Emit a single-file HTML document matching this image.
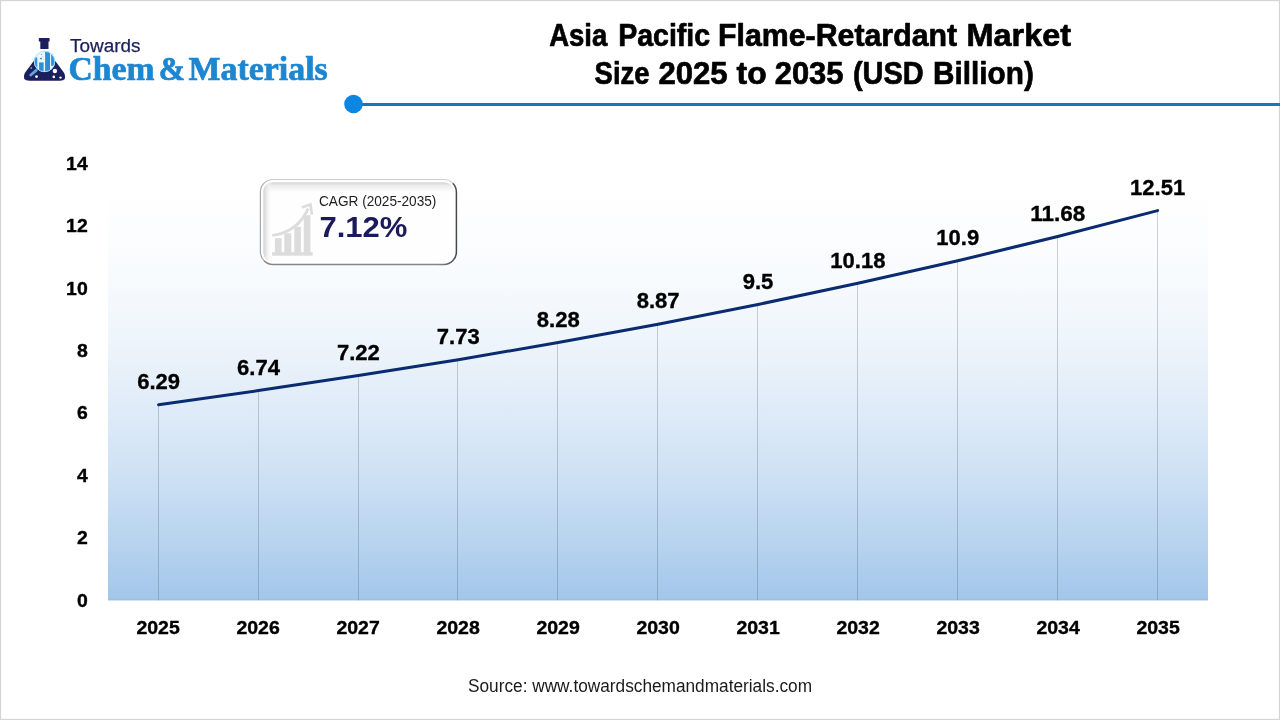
<!DOCTYPE html>
<html lang="en"><head><meta charset="utf-8">
<title>Asia Pacific Flame-Retardant Market Size 2025 to 2035 (USD Billion)</title>
<style>
html,body{margin:0;padding:0;background:#fff;}
body{width:1280px;height:720px;overflow:hidden;position:relative;font-family:"Liberation Sans",sans-serif;}
svg{position:absolute;left:0;top:0;display:block;will-change:transform;}
text{font-family:"Liberation Sans",sans-serif;}
.b{font-weight:700;}
.serif{font-family:"Liberation Serif",serif;font-weight:700;}
</style></head><body>
<svg width="1280" height="720" viewBox="0 0 1280 720">
<defs>
<linearGradient id="pg" x1="0" y1="0" x2="0" y2="1"><stop offset="0.00" stop-color="rgb(255,255,255)"/><stop offset="0.05" stop-color="rgb(255,255,255)"/><stop offset="0.10" stop-color="rgb(254,254,255)"/><stop offset="0.15" stop-color="rgb(252,253,254)"/><stop offset="0.20" stop-color="rgb(250,252,254)"/><stop offset="0.25" stop-color="rgb(248,251,253)"/><stop offset="0.30" stop-color="rgb(245,249,253)"/><stop offset="0.35" stop-color="rgb(242,247,252)"/><stop offset="0.40" stop-color="rgb(238,245,251)"/><stop offset="0.45" stop-color="rgb(234,242,250)"/><stop offset="0.50" stop-color="rgb(229,239,249)"/><stop offset="0.55" stop-color="rgb(224,236,248)"/><stop offset="0.60" stop-color="rgb(219,233,247)"/><stop offset="0.65" stop-color="rgb(213,229,246)"/><stop offset="0.70" stop-color="rgb(207,226,244)"/><stop offset="0.75" stop-color="rgb(200,222,243)"/><stop offset="0.80" stop-color="rgb(193,217,241)"/><stop offset="0.85" stop-color="rgb(186,213,239)"/><stop offset="0.90" stop-color="rgb(178,208,238)"/><stop offset="0.95" stop-color="rgb(170,203,236)"/><stop offset="1.00" stop-color="rgb(162,198,234)"/></linearGradient>
<linearGradient id="bx" gradientUnits="userSpaceOnUse" x1="0" y1="182.3" x2="0" y2="192"><stop offset="0" stop-color="#d4d4d4"/><stop offset="0.35" stop-color="#ececec"/><stop offset="1" stop-color="#fefefe"/></linearGradient>
<linearGradient id="bxl" gradientUnits="userSpaceOnUse" x1="263.2" y1="0" x2="272" y2="0"><stop offset="0" stop-color="#d0d0d0"/><stop offset="0.4" stop-color="#e6e6e6" stop-opacity="0.8"/><stop offset="1" stop-color="#ffffff" stop-opacity="0"/></linearGradient>
<linearGradient id="sTL" gradientUnits="userSpaceOnUse" x1="260" y1="0" x2="274" y2="0"><stop offset="0" stop-color="#a6a6a6"/><stop offset="1" stop-color="#cfcfcf"/></linearGradient>
<linearGradient id="sBR" gradientUnits="userSpaceOnUse" x1="438" y1="0" x2="457" y2="0"><stop offset="0" stop-color="#868686"/><stop offset="1" stop-color="#464646"/></linearGradient>
<clipPath id="bxclip"><rect x="263.2" y="182.3" width="190.6" height="79.6" rx="9.6"/></clipPath>
<clipPath id="mag"><circle cx="44.5" cy="61.5" r="10.4"/></clipPath>
<filter id="soft" x="-5%" y="-5%" width="110%" height="110%"><feGaussianBlur stdDeviation="0.35"/></filter>
</defs>
<rect x="0" y="0" width="1280" height="720" fill="#ffffff"/>
<rect x="0.5" y="0.5" width="1279" height="719" fill="none" stroke="#d5d5d5" stroke-width="1.3"/>
<rect x="108" y="163" width="1100" height="437.4" fill="url(#pg)"/>
<rect x="108" y="599.6" width="1100" height="0.8" fill="#5a6470" fill-opacity="0.13"/>
<line x1="158.5" y1="404.7" x2="158.5" y2="600.4" stroke="#3c4858" stroke-opacity="0.25" stroke-width="1"/>
<line x1="258.5" y1="390.6" x2="258.5" y2="600.4" stroke="#3c4858" stroke-opacity="0.25" stroke-width="1"/>
<line x1="358.5" y1="375.6" x2="358.5" y2="600.4" stroke="#3c4858" stroke-opacity="0.25" stroke-width="1"/>
<line x1="457.5" y1="359.7" x2="457.5" y2="600.4" stroke="#3c4858" stroke-opacity="0.25" stroke-width="1"/>
<line x1="557.5" y1="342.6" x2="557.5" y2="600.4" stroke="#3c4858" stroke-opacity="0.25" stroke-width="1"/>
<line x1="657.5" y1="324.2" x2="657.5" y2="600.4" stroke="#3c4858" stroke-opacity="0.25" stroke-width="1"/>
<line x1="757.5" y1="304.5" x2="757.5" y2="600.4" stroke="#3c4858" stroke-opacity="0.25" stroke-width="1"/>
<line x1="857.5" y1="283.3" x2="857.5" y2="600.4" stroke="#3c4858" stroke-opacity="0.25" stroke-width="1"/>
<line x1="957.5" y1="260.8" x2="957.5" y2="600.4" stroke="#3c4858" stroke-opacity="0.25" stroke-width="1"/>
<line x1="1057.5" y1="236.5" x2="1057.5" y2="600.4" stroke="#3c4858" stroke-opacity="0.25" stroke-width="1"/>
<line x1="1157.5" y1="210.6" x2="1157.5" y2="600.4" stroke="#3c4858" stroke-opacity="0.25" stroke-width="1"/>
<polyline points="158.6,404.7 258.5,390.6 358.4,375.6 458.3,359.7 558.2,342.6 658.1,324.2 758.0,304.5 857.9,283.3 957.8,260.8 1057.7,236.5 1157.6,210.6" fill="none" stroke="#0a2b70" stroke-width="3" stroke-linecap="round" stroke-linejoin="round"/>
<rect x="353" y="103" width="927" height="3" fill="#1577b9"/>
<circle cx="353.5" cy="104" r="9.3" fill="#0c87e1"/>
<text x="549.14" y="46.3" font-size="32.2" fill="#000" class="b" textLength="58.2" lengthAdjust="spacingAndGlyphs" stroke="#000" stroke-width="0.7" stroke-linejoin="round">Asia</text>
<text x="618.18" y="46.3" font-size="32.2" fill="#000" class="b" textLength="92.0" lengthAdjust="spacingAndGlyphs" stroke="#000" stroke-width="0.7" stroke-linejoin="round">Pacific</text>
<text x="717.98" y="46.3" font-size="32.2" fill="#000" class="b" textLength="239.17" lengthAdjust="spacingAndGlyphs" stroke="#000" stroke-width="0.7" stroke-linejoin="round">Flame-Retardant</text>
<text x="966.53" y="46.3" font-size="32.2" fill="#000" class="b" textLength="104.5" lengthAdjust="spacingAndGlyphs" stroke="#000" stroke-width="0.7" stroke-linejoin="round">Market</text>
<text x="594.6" y="84.4" font-size="32.2" fill="#000" class="b" textLength="55.0" lengthAdjust="spacingAndGlyphs" stroke="#000" stroke-width="0.7" stroke-linejoin="round">Size</text>
<text x="658.44" y="84.4" font-size="32.2" fill="#000" class="b" textLength="69.19" lengthAdjust="spacingAndGlyphs" stroke="#000" stroke-width="0.7" stroke-linejoin="round">2025</text>
<text x="736.59" y="84.4" font-size="32.2" fill="#000" class="b" textLength="30.1" lengthAdjust="spacingAndGlyphs" stroke="#000" stroke-width="0.7" stroke-linejoin="round">to</text>
<text x="774.67" y="84.4" font-size="32.2" fill="#000" class="b" textLength="68.9" lengthAdjust="spacingAndGlyphs" stroke="#000" stroke-width="0.7" stroke-linejoin="round">2035</text>
<text x="852.93" y="84.4" font-size="32.2" fill="#000" class="b" textLength="70.74" lengthAdjust="spacingAndGlyphs" stroke="#000" stroke-width="0.7" stroke-linejoin="round">(USD</text>
<text x="933.06" y="84.4" font-size="32.2" fill="#000" class="b" textLength="100.8" lengthAdjust="spacingAndGlyphs" stroke="#000" stroke-width="0.7" stroke-linejoin="round">Billion)</text>
<text x="87.7" y="606.5" font-size="18.2" fill="#000" class="b" text-anchor="end" textLength="10.8" lengthAdjust="spacingAndGlyphs" stroke="#000" stroke-width="0.35" stroke-linejoin="round">0</text>
<text x="87.7" y="544.1" font-size="18.2" fill="#000" class="b" text-anchor="end" textLength="10.8" lengthAdjust="spacingAndGlyphs" stroke="#000" stroke-width="0.35" stroke-linejoin="round">2</text>
<text x="87.7" y="481.7" font-size="18.2" fill="#000" class="b" text-anchor="end" textLength="10.8" lengthAdjust="spacingAndGlyphs" stroke="#000" stroke-width="0.35" stroke-linejoin="round">4</text>
<text x="87.7" y="419.3" font-size="18.2" fill="#000" class="b" text-anchor="end" textLength="10.8" lengthAdjust="spacingAndGlyphs" stroke="#000" stroke-width="0.35" stroke-linejoin="round">6</text>
<text x="87.7" y="356.9" font-size="18.2" fill="#000" class="b" text-anchor="end" textLength="10.8" lengthAdjust="spacingAndGlyphs" stroke="#000" stroke-width="0.35" stroke-linejoin="round">8</text>
<text x="87.7" y="294.5" font-size="18.2" fill="#000" class="b" text-anchor="end" textLength="21.6" lengthAdjust="spacingAndGlyphs" stroke="#000" stroke-width="0.35" stroke-linejoin="round">10</text>
<text x="87.7" y="232.1" font-size="18.2" fill="#000" class="b" text-anchor="end" textLength="21.6" lengthAdjust="spacingAndGlyphs" stroke="#000" stroke-width="0.35" stroke-linejoin="round">12</text>
<text x="87.7" y="169.7" font-size="18.2" fill="#000" class="b" text-anchor="end" textLength="21.6" lengthAdjust="spacingAndGlyphs" stroke="#000" stroke-width="0.35" stroke-linejoin="round">14</text>
<text x="158.1" y="634" font-size="18.2" fill="#000" class="b" text-anchor="middle" textLength="43.3" lengthAdjust="spacingAndGlyphs" stroke="#000" stroke-width="0.35" stroke-linejoin="round">2025</text>
<text x="258.1" y="634" font-size="18.2" fill="#000" class="b" text-anchor="middle" textLength="43.3" lengthAdjust="spacingAndGlyphs" stroke="#000" stroke-width="0.35" stroke-linejoin="round">2026</text>
<text x="358.1" y="634" font-size="18.2" fill="#000" class="b" text-anchor="middle" textLength="43.3" lengthAdjust="spacingAndGlyphs" stroke="#000" stroke-width="0.35" stroke-linejoin="round">2027</text>
<text x="458.1" y="634" font-size="18.2" fill="#000" class="b" text-anchor="middle" textLength="43.3" lengthAdjust="spacingAndGlyphs" stroke="#000" stroke-width="0.35" stroke-linejoin="round">2028</text>
<text x="558.1" y="634" font-size="18.2" fill="#000" class="b" text-anchor="middle" textLength="43.3" lengthAdjust="spacingAndGlyphs" stroke="#000" stroke-width="0.35" stroke-linejoin="round">2029</text>
<text x="658.1" y="634" font-size="18.2" fill="#000" class="b" text-anchor="middle" textLength="43.3" lengthAdjust="spacingAndGlyphs" stroke="#000" stroke-width="0.35" stroke-linejoin="round">2030</text>
<text x="758.1" y="634" font-size="18.2" fill="#000" class="b" text-anchor="middle" textLength="43.3" lengthAdjust="spacingAndGlyphs" stroke="#000" stroke-width="0.35" stroke-linejoin="round">2031</text>
<text x="858.1" y="634" font-size="18.2" fill="#000" class="b" text-anchor="middle" textLength="43.3" lengthAdjust="spacingAndGlyphs" stroke="#000" stroke-width="0.35" stroke-linejoin="round">2032</text>
<text x="958.1" y="634" font-size="18.2" fill="#000" class="b" text-anchor="middle" textLength="43.3" lengthAdjust="spacingAndGlyphs" stroke="#000" stroke-width="0.35" stroke-linejoin="round">2033</text>
<text x="1058.1" y="634" font-size="18.2" fill="#000" class="b" text-anchor="middle" textLength="43.3" lengthAdjust="spacingAndGlyphs" stroke="#000" stroke-width="0.35" stroke-linejoin="round">2034</text>
<text x="1158.1" y="634" font-size="18.2" fill="#000" class="b" text-anchor="middle" textLength="43.3" lengthAdjust="spacingAndGlyphs" stroke="#000" stroke-width="0.35" stroke-linejoin="round">2035</text>
<text x="158.6" y="388.9" font-size="22.2" fill="#000" class="b" text-anchor="middle" textLength="42.9" lengthAdjust="spacingAndGlyphs" stroke="#000" stroke-width="0.35" stroke-linejoin="round">6.29</text>
<text x="258.5" y="374.8" font-size="22.2" fill="#000" class="b" text-anchor="middle" textLength="42.9" lengthAdjust="spacingAndGlyphs" stroke="#000" stroke-width="0.35" stroke-linejoin="round">6.74</text>
<text x="358.4" y="359.8" font-size="22.2" fill="#000" class="b" text-anchor="middle" textLength="42.9" lengthAdjust="spacingAndGlyphs" stroke="#000" stroke-width="0.35" stroke-linejoin="round">7.22</text>
<text x="458.3" y="343.9" font-size="22.2" fill="#000" class="b" text-anchor="middle" textLength="42.9" lengthAdjust="spacingAndGlyphs" stroke="#000" stroke-width="0.35" stroke-linejoin="round">7.73</text>
<text x="558.2" y="326.8" font-size="22.2" fill="#000" class="b" text-anchor="middle" textLength="42.9" lengthAdjust="spacingAndGlyphs" stroke="#000" stroke-width="0.35" stroke-linejoin="round">8.28</text>
<text x="658.1" y="308.4" font-size="22.2" fill="#000" class="b" text-anchor="middle" textLength="42.9" lengthAdjust="spacingAndGlyphs" stroke="#000" stroke-width="0.35" stroke-linejoin="round">8.87</text>
<text x="758.0" y="288.7" font-size="22.2" fill="#000" class="b" text-anchor="middle" textLength="30.7" lengthAdjust="spacingAndGlyphs" stroke="#000" stroke-width="0.35" stroke-linejoin="round">9.5</text>
<text x="857.9" y="267.5" font-size="22.2" fill="#000" class="b" text-anchor="middle" textLength="55.1" lengthAdjust="spacingAndGlyphs" stroke="#000" stroke-width="0.35" stroke-linejoin="round">10.18</text>
<text x="957.8" y="245.0" font-size="22.2" fill="#000" class="b" text-anchor="middle" textLength="42.9" lengthAdjust="spacingAndGlyphs" stroke="#000" stroke-width="0.35" stroke-linejoin="round">10.9</text>
<text x="1057.7" y="220.7" font-size="22.2" fill="#000" class="b" text-anchor="middle" textLength="55.1" lengthAdjust="spacingAndGlyphs" stroke="#000" stroke-width="0.35" stroke-linejoin="round">11.68</text>
<text x="1157.6" y="194.8" font-size="22.2" fill="#000" class="b" text-anchor="middle" textLength="55.1" lengthAdjust="spacingAndGlyphs" stroke="#000" stroke-width="0.35" stroke-linejoin="round">12.51</text>
<text x="640" y="691.7" font-size="17.5" fill="#1a1a1a" text-anchor="middle" textLength="344" lengthAdjust="spacingAndGlyphs">Source: www.towardschemandmaterials.com</text>
<g>
<rect x="260.4" y="179.5" width="196.0" height="85.0" rx="12.5" fill="#fefefe"/>
<rect x="263.2" y="182.3" width="190.6" height="79.6" rx="9.6" fill="url(#bx)"/>
<rect x="263.2" y="182.3" width="9" height="79.6" rx="0" fill="url(#bxl)" clip-path="url(#bxclip)"/>
<path d="M264.06,260.84 A12.5,12.5 0 0 1 260.4,252.0 L260.4,192.0 A12.5,12.5 0 0 1 272.9,179.5 L443.9,179.5 A12.5,12.5 0 0 1 452.74,183.16" fill="none" stroke="url(#sTL)" stroke-width="1.2"/>
<path d="M452.74,183.16 A12.5,12.5 0 0 1 456.4,192.0 L456.4,252.0 A12.5,12.5 0 0 1 443.9,264.5 L272.9,264.5 A12.5,12.5 0 0 1 264.06,260.84" fill="none" stroke="url(#sBR)" stroke-width="1.5"/>
<g fill="#dcdcdc" stroke="none">
<rect x="272.0" y="252.2" width="40.7" height="3.5"/>
<rect x="274.9" y="238.2" width="6.7" height="15"/>
<rect x="284.3" y="233.2" width="7.0" height="20"/>
<rect x="294.3" y="226.8" width="6.6" height="26"/>
<rect x="303.8" y="215.2" width="6.6" height="38"/>
</g>
<path d="M272.2,235.4 C288,233.4 301,224.5 308.2,208.6" fill="none" stroke="#dcdcdc" stroke-width="2.8" stroke-linecap="butt"/>
<path d="M301.8,207.6 L310.4,204.6 L312.0,214.6" fill="none" stroke="#dcdcdc" stroke-width="2.6" stroke-linejoin="miter"/>
<text x="319.0" y="205.8" font-size="14.4" fill="#1e1e1e" textLength="117.4" lengthAdjust="spacingAndGlyphs">CAGR (2025-2035)</text>
<text x="319.4" y="236.7" font-size="29.2" fill="#1a1a5c" class="b" textLength="88" lengthAdjust="spacingAndGlyphs">7.12%</text>
</g>
<g>
<rect x="38.8" y="38" width="10.8" height="3.6" rx="0.7" fill="#1b1f5c"/>
<rect x="40.3" y="41" width="8.2" height="8.0" fill="#1b1f5c"/>
<path d="M40.4,52 L48.6,52 L64.2,73.0 Q67.6,80.8 59.8,80.8 L29.4,80.8 Q21.4,80.8 24.8,73.0 Z" fill="#1b1f5c"/>
<circle cx="44.5" cy="61.5" r="10.6" fill="#e9f6fe"/>
<g clip-path="url(#mag)">
<rect x="33.6" y="57.5" width="3.7" height="16" fill="#2f93d6"/>
<rect x="39.1" y="62.4" width="4.5" height="12" fill="#2a8fd4"/>
<rect x="45.1" y="50" width="4.9" height="24" fill="#2a8fd4"/>
<rect x="51.1" y="52" width="4.6" height="13.8" fill="#2f93d6"/>
</g>
<circle cx="44.5" cy="61.5" r="10.2" fill="none" stroke="#a6e0fb" stroke-width="0.9"/>
<line x1="36.2" y1="70.4" x2="30.8" y2="75.0" stroke="#5ea8e0" stroke-width="2.8" stroke-linecap="round"/>
<circle cx="54.9" cy="71.0" r="2.2" fill="#fff"/>
<circle cx="36.5" cy="76.6" r="1.4" fill="#fff"/>
<circle cx="53.8" cy="76.9" r="1.3" fill="#fff"/>
<circle cx="60.5" cy="77.6" r="1.2" fill="#fff"/>
<circle cx="31.3" cy="68.0" r="0.9" fill="#8d90c8"/>
<circle cx="41.0" cy="58.6" r="0.8" fill="#1f5f8f"/>
<circle cx="41.4" cy="54.5" r="0.5" fill="#4a86b8"/>
<circle cx="43.0" cy="56.8" r="0.4" fill="#4a86b8"/>
<text x="70.0" y="51.7" font-size="18" fill="#1b1f5c" textLength="70.56" lengthAdjust="spacingAndGlyphs" stroke="#1b1f5c" stroke-width="0.25">Towards</text>
<text x="68.6" y="79.7" font-size="33.4" fill="#1c86d1" class="serif" textLength="85.9" lengthAdjust="spacingAndGlyphs" stroke="#1c86d1" stroke-width="0.7" stroke-linejoin="round">Chem</text>
<text x="158.7" y="79.7" font-size="33.4" fill="#1c86d1" class="serif" textLength="26.3" lengthAdjust="spacingAndGlyphs" stroke="#1c86d1" stroke-width="0.7" stroke-linejoin="round">&amp;</text>
<text x="188.5" y="79.7" font-size="33.4" fill="#1c86d1" class="serif" textLength="139.3" lengthAdjust="spacingAndGlyphs" stroke="#1c86d1" stroke-width="0.7" stroke-linejoin="round">Materials</text>
</g>
</svg>
</body></html>
